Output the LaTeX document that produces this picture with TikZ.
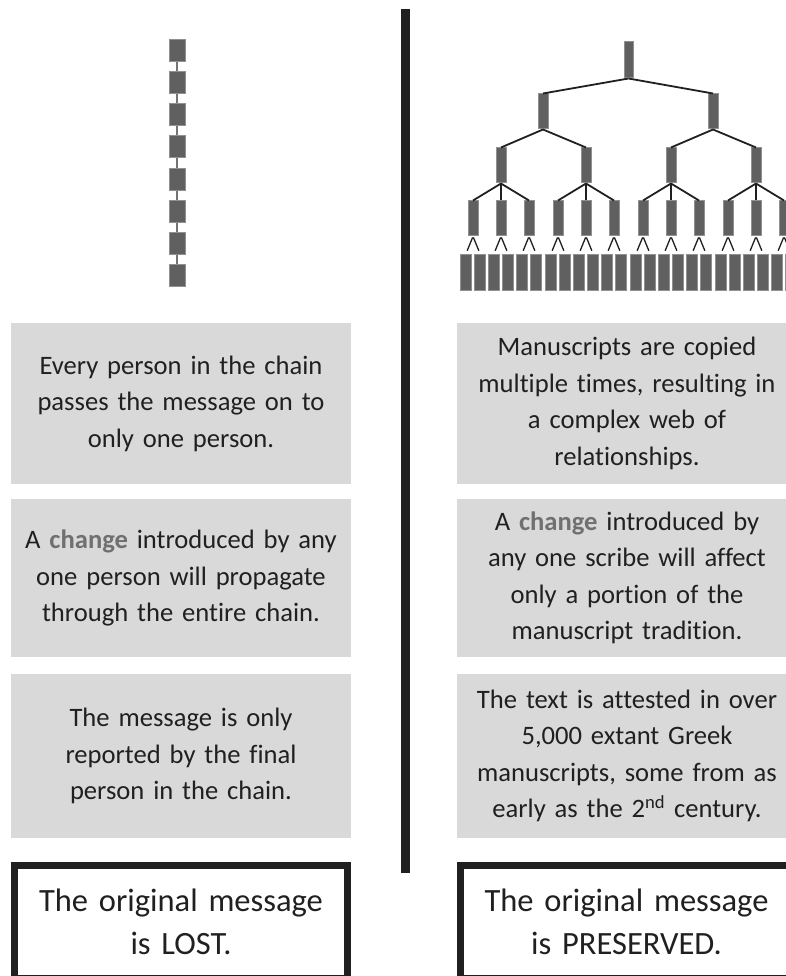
\documentclass[tikz,border=0pt]{standalone}
\usepackage{fontspec}
\setmainfont{Carlito}[Ligatures=NoCommon]
\usetikzlibrary{calc}
\definecolor{boxgray}{RGB}{217,217,217}
\definecolor{inkgray}{RGB}{32,32,32}
\definecolor{markgray}{RGB}{112,112,112}
\definecolor{msfill}{RGB}{96,96,96}
\definecolor{msedge}{RGB}{145,145,145}
\newcommand{\notefont}{\fontsize{26.6}{36.5}\selectfont}
\newcommand{\verdictfont}{\fontsize{32.5}{43}\selectfont}
\newcommand{\chg}{\textbf{\color{markgray}change}}
\tikzset{
	msbox/.style={draw=msedge, fill=msfill, line width=1pt, inner sep=0pt, minimum width=10pt, minimum height=35pt},
	leafbox/.style={msbox, minimum width=11pt, minimum height=36pt},
	chainbox/.style={msbox, minimum width=16pt, minimum height=22pt},
	link/.style={draw=inkgray, line width=1.8pt},
	chainlink/.style={draw=msedge!80!black, line width=1.4pt},
	notebox/.style={fill=boxgray, text=inkgray, inner sep=0pt, minimum width=340pt, text width=338pt, align=center, font=\notefont},
	verdict/.style={draw=inkgray, line width=7pt, fill=white, text=inkgray, inner sep=0pt, minimum width=333pt, minimum height=112.5pt, text width=324pt, align=center, font=\verdictfont}
}

\begin{document}
\begin{tikzpicture}[x=1pt, y=-1pt]
		%%%%% START %%%%%
		\useasboundingbox (0, 0) rectangle (786, 976);
		\clip (0, 0) rectangle (786, 976);
		
		% chain of single hand-offs
		\foreach \i in {1,...,8}
			\node[chainbox] (p\i) at (177, {50.5 + 32.14*(\i-1)}) {};
		\foreach \i [evaluate=\i as \j using int(\i+1)] in {1,...,7}
			\draw[chainlink] (p\i.south) -- (p\j.north);
		
		% divider
		\draw[line width=9pt, color=inkgray] (405.5, 9) -- (405.5, 873);
		
		% copying tree
		\node[msbox, minimum width=9pt, minimum height=36pt] (root) at (628.5, 60) {};
		\node[msbox] (a1) at (543, 111.5) {};
		\node[msbox] (a2) at (713, 111.5) {};
		\draw[link] (root.south) -- (a1.north);
		\draw[link] (root.south) -- (a2.north);
		
		\node[msbox] (b1) at (501, 165.5) {};
		\node[msbox] (b2) at (586, 165.5) {};
		\node[msbox] (b3) at (671, 165.5) {};
		\node[msbox] (b4) at (756, 165.5) {};
		\draw[link] (a1.south) -- (b1.north);
		\draw[link] (a1.south) -- (b2.north);
		\draw[link] (a2.south) -- (b3.north);
		\draw[link] (a2.south) -- (b4.north);
		
		\foreach \b in {1,...,4} {
			\foreach \k in {1,2,3} {
				\pgfmathtruncatemacro{\c}{3*(\b-1)+\k}
				\node[msbox] (c\c) at ($(b\b) + ({28*(\k-2)}, 53)$) {};
				\draw[link] (b\b.south) -- (c\c.north);
				% two copies under each
				\node[leafbox] (d\c x) at ($(c\c) + (-7, 53.5)$) {};
				\node[leafbox] (d\c y) at ($(c\c) + (7, 53.5)$) {};
				\draw[link, line width=1.3pt, shorten >=3pt, shorten <=1pt] (c\c.south) -- (d\c x.north);
				\draw[link, line width=1.3pt, shorten >=3pt, shorten <=1pt] (c\c.south) -- (d\c y.north);
			}
		}
		
		% left column
		\node[notebox, minimum height=161pt] (lone) at (181, 403.5) {Every person in the chain\\passes the message on to\\only one person.};
		\node[notebox, minimum height=158pt] (ltwo) at (181, 578) {A \chg{} introduced by any\\one person will propagate\\through the entire chain.};
		\node[notebox, minimum height=164pt] (lthree) at (181, 756) {The message is only\\reported by the final\\person in the chain.};
		\node[verdict] (lost) at (181, 921.75) {The original message\\is LOST.};
		
		% right column
		\node[notebox, minimum height=161pt] (rone) at (627, 403.5) {Manuscripts are copied\\multiple times, resulting in\\a complex web of\\relationships.};
		\node[notebox, minimum height=158pt] (rtwo) at (627, 578) {A \chg{} introduced by\\any one scribe will affect\\only a portion of the\\manuscript tradition.};
		\node[notebox, minimum height=164pt] (rthree) at (627, 756) {The text is attested in over\\5,000 extant Greek\\manuscripts, some from as\\early as the 2\textsuperscript{nd} century.};
		\node[verdict] (kept) at (626.5, 921.75) {The original message\\is PRESERVED.};
		
		%%%%% END %%%%%
	\end{tikzpicture}
\end{document}
